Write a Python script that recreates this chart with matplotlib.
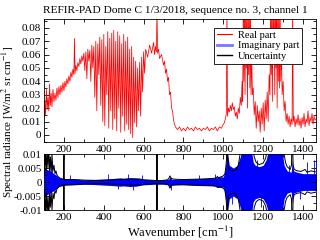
import matplotlib
matplotlib.use("Agg")
import matplotlib.pyplot as plt
from matplotlib.lines import Line2D
from matplotlib.ticker import MultipleLocator

# ---------------- data ----------------
real_wn = [100,104,108,112,116,120,124,128,132,136,140,145,150,155,160,165,170,175,180,185,
           190,195,200,205,210,215,220,225,230,235,240,245,250,253,256,260,265,270,275,280,
           285,290,295,300,305,310,315,320,325,330,335,340,345,350,355,360,365,370,375,380,
           385,390,395,400,405,410,415,420,425,430,435,440,445,450,455,460,465,470,475,480,
           485,490,495,500,505,510,515,520,525,530,535,540,545,550,555,560,565,570,575,580,
           585,590,595,600,605,610,620,630,640,650,655,660,664,667,670,675,680,690,700,705,
           710,715,720,725,730,735,740,745,750,755,760,770,780,790,800,810,820,830,840,850,
           860,870,880,890,900,910,920,930,940,950,960,970,980,990,1000,1005,1010,1015,1018,1021,
           1025,1030,1035,1040,1045,1050,1055,1060,1065,1070,1075,1080,1085,1090,1094,1097,1100,1103,1106,1109,
           1112,1115,1118,1121,1124,1127,1130,1133,1136,1139,1142,1146,1150,1155,1160,1165,1170,1175,1180,1185,
           1190,1195,1200,1205,1210,1215,1220,1225,1230,1234,1237,1240,1243,1246,1249,1252,1255,1258,1261,1264,
           1267,1270,1273,1276,1279,1282,1285,1288,1291,1295,1300,1305,1310,1315,1320,1325,1330,1335,1340,1345,
           1348,1351,1355,1360,1365,1370,1375,1380,1385,1390,1395,1400,1405,1410,1415,1420,1425,1430,1435,1440,
           1445,1450,1455,1460,1465]
real_val = [.013,.026,.015,.034,.019,.028,.018,.038,.022,.031,.021,.034,.025,.031,.026,.035,.028,.036,.030,.037,
            .032,.039,.033,.040,.036,.042,.038,.044,.040,.047,.043,.049,.045,.072,.046,.052,.048,.054,.051,.057,
            .053,.059,.055,.061,.048,.062,.042,.064,.055,.063,.040,.067,.050,.066,.028,.070,.018,.068,.045,.073,
            .022,.071,.010,.075,.007,.066,.030,.077,.005,.072,.018,.076,.004,.078,.012,.070,.003,.077,.020,.074,
            .002,.068,.014,.075,.003,.070,.008,.073,.004,.064,.001,.066,-.002,.058,.009,.055,.006,.050,.018,.054,
            .014,.058,.032,.062,.046,.064,.058,.067,.061,.069,.060,.066,.062,.095,.061,.064,.057,.060,.052,.055,
            .046,.049,.040,.043,.030,.032,.020,.018,.011,.008,.006,.004,.006,.003,.005,.003,.006,.004,.005,.003,
            .006,.004,.005,.003,.005,.004,.006,.003,.005,.004,.006,.003,.006,.005,.008,.009,.012,.016,.095,.014,
            .020,.017,.022,.018,.024,.019,.021,.014,.017,.012,.020,.016,.028,.022,.040,.025,.095,.040,.095,.030,
            .095,.050,.095,.020,.095,.045,.095,.035,.095,.030,.060,.030,.035,.015,.025,.005,.022,.010,.018,.002,
            .020,.008,.024,.003,.026,.012,.032,.010,.045,.030,.095,.045,.095,.025,.095,.055,.095,.030,.095,.050,
            .095,.020,.095,.040,.095,.035,.095,.040,.070,.030,.040,.018,.025,.010,.016,.008,.014,.006,.012,.008,
            .095,.010,.014,.006,.012,.008,.015,.007,.012,.005,.013,.008,.016,.006,.012,.009,.018,.007,.013,.010,
            .016,.008,.014,.011,.012]

imag_wn = [100,130,160,175,200,250,300,350,400,450,480,500,530,560,600,650,700,725,732,740,
           800,850,900,950,968,972,1000,1008,1015,1020,1030,1050,1070,1085,1092,1142,1150,1160,1180,1200,
           1215,1225,1295,1305,1320,1340,1347,1352,1370,1400,1430,1465]
imag_amp = [.005,.004,.0025,.0016,.0012,.001,.0008,.0009,.0011,.0013,.0015,.0014,.0016,.0015,.001,.0008,.0008,.001,.0018,.001,
            .001,.0012,.0013,.0014,.0016,.002,.0018,.004,.008,.011,.006,.005,.006,.009,.011,.011,.007,.006,.0055,.006,
            .008,.011,.011,.006,.004,.0035,.008,.004,.0035,.003,.003,.003]

spike_wn = [140,230,420,470,520,545,590,735,880,960,1045,1170,1190,1330,1385,1420,1455]
spike_val = [.006,.0025,.0028,-.0025,.003,-.003,.0025,-.003,.0025,.003,-.008,.008,-.009,.006,-.006,.007,.008]

unc_wn = [100,104,108,112,116,120,124,128,132,136,140,145,150,155,160,165,170,180,190,199,
          200,201,210,250,300,350,400,450,500,550,580,600,650,665,667,669,680,700,720,728,
          732,740,760,800,850,900,950,965,970,975,1000,1008,1012,1016,1019,1022,1026,1035,1050,1065,
          1075,1082,1088,1092,1145,1150,1155,1165,1180,1200,1212,1220,1226,1298,1305,1312,1320,1335,1342,1346,
          1350,1356,1370,1390,1410,1420,1440,1465]
unc_val = [.014,.003,.012,.004,.011,.005,.013,.004,.009,.003,.010,.004,.006,.003,.004,.0025,.002,.0014,.0011,.001,
           .02,.001,.0009,.0009,.0007,.0006,.0006,.0008,.0009,.001,.0011,.0008,.0006,.0005,.02,.0005,.0005,.0006,.0008,.0015,
           .0022,.0012,.001,.0009,.001,.0011,.0013,.0015,.002,.0015,.0022,.003,.005,.008,.02,.008,.005,.0042,.004,.0045,
           .006,.009,.013,.02,.02,.012,.009,.007,.0062,.0068,.0085,.011,.02,.02,.01,.007,.0055,.0045,.006,.02,
           .006,.0045,.004,.0038,.0045,.0035,.004,.0036]

title = "REFIR-PAD Dome C 1/3/2018, sequence no. 3, channel 1"
legend_labels = ["Real part", "Imaginary part", "Uncertainty"]

assert len(real_wn) == len(real_val)
assert len(imag_wn) == len(imag_amp)
assert len(spike_wn) == len(spike_val)
assert len(unc_wn) == len(unc_val)

# ---------------- plotting ----------------
plt.rcParams['font.family'] = ['Liberation Serif', 'DejaVu Serif']
plt.rcParams['mathtext.fontset'] = 'stix'

fig = plt.figure(figsize=(3.2, 2.4), dpi=100)
ax1 = fig.add_axes([0.1375, 0.408, 0.85, 0.513])
ax2 = fig.add_axes([0.1375, 0.125, 0.85, 0.233])

ax1.plot(real_wn, real_val, color='red', lw=0.55)

ax2.fill_between(imag_wn, [-a for a in imag_amp], imag_amp, color='blue', lw=0)
ax2.vlines(spike_wn, 0, spike_val, color='blue', lw=0.6)
ax2.plot(unc_wn, unc_val, color='black', lw=0.7)
ax2.plot(unc_wn, [-u for u in unc_val], color='black', lw=0.7)

for ax in (ax1, ax2):
    ax.set_xlim(100, 1465)
    ax.xaxis.set_major_locator(MultipleLocator(200))
    ax.xaxis.set_minor_locator(MultipleLocator(100))
    ax.tick_params(which='both', direction='in', top=True, right=True, labelsize=8, pad=2)
    ax.tick_params(which='major', length=3.5, width=0.6)
    ax.tick_params(which='minor', length=2, width=0.6)
    for s in ax.spines.values():
        s.set_linewidth(0.6)
ax2.tick_params(axis='y', labelsize=7.8, pad=1.5)

ax1.set_ylim(-0.0053, 0.0865)
ax1.yaxis.set_minor_locator(MultipleLocator(0.005))
ax1.set_yticks([0, 0.01, 0.02, 0.03, 0.04, 0.05, 0.06, 0.07, 0.08])
ax1.set_yticklabels(['0', '0.01', '0.02', '0.03', '0.04', '0.05', '0.06', '0.07', '0.08'])

ax2.set_ylim(-0.01, 0.01)
ax2.set_yticks([-0.01, -0.005, 0, 0.005, 0.01])
ax2.set_yticklabels(['-0.01', '-0.005', '0', '0.005', '0.01'])
ax2.yaxis.set_minor_locator(MultipleLocator(0.0025))

fig.text(0.5625, 0.032, "Wavenumber [cm$^{-1}$]", ha='center', va='center', fontsize=9)
fig.text(0.024, 0.49, "Spectral radiance [W/m$^2$ sr cm$^{-1}$]", rotation=90,
         ha='center', va='center', fontsize=8)
fig.text(0.547, 0.958, title, ha='center', va='center', fontsize=8.2)

handles = [Line2D([], [], color='red', lw=0.8),
           Line2D([], [], color='#7777ff', lw=2),
           Line2D([], [], color='black', lw=1)]
leg = ax1.legend(handles, legend_labels, loc='upper right', bbox_to_anchor=(0.95, 0.93),
                 fontsize=7.5, frameon=True, fancybox=False, framealpha=1,
                 edgecolor='black', handlelength=1.4, handletextpad=0.6,
                 borderpad=0.3, labelspacing=0.1, borderaxespad=0)
leg.get_frame().set_linewidth(0.6)

fig.savefig("out.png", dpi=100)
